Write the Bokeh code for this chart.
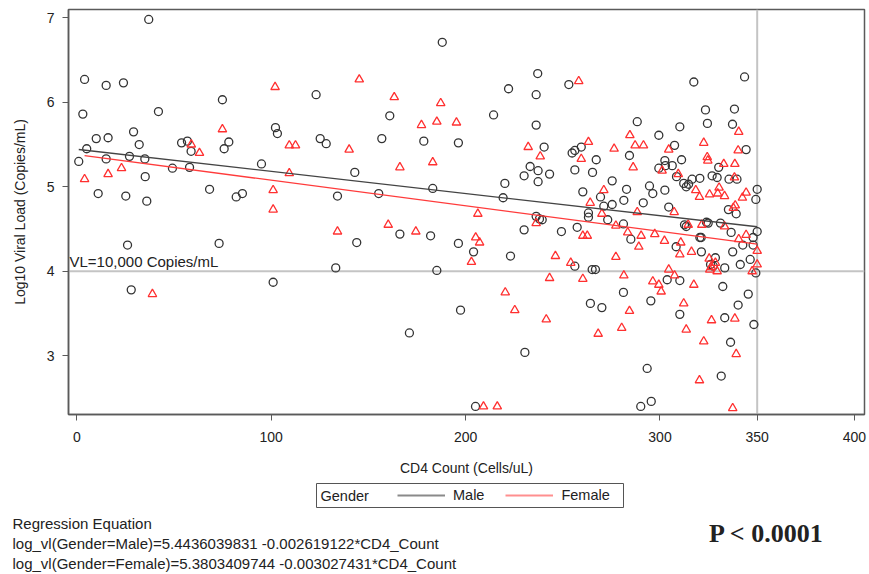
from bokeh.plotting import figure
from bokeh.layouts import column
from bokeh.models import (Span, Label, Legend, LegendItem, BoxAnnotation,
                          FixedTicker, Range1d)
from bokeh.embed import file_html
from bokeh.resources import INLINE

# ---------------- data ----------------
male_cd4 = [37.0, 4.0, 15.1, 24.0, 3.1, 42.0, 74.9, 123.1, 161.0, 188.0,
            10.0, 16.1, 29.2, 32.1, 5.1, 1.0, 15.1, 27.1, 35.0, 11.0,
            25.2, 35.2, 36.0, 26.1, 28.0, 53.9, 56.9, 58.8, 49.2, 58.0,
            68.3, 82.0, 85.2, 73.2, 75.8, 78.2, 95.0, 102.2, 103.2, 101.0,
            125.2, 128.3, 134.1, 144.0, 133.2, 143.0, 155.3, 156.9, 166.2, 171.1,
            178.5, 182.0, 183.1, 185.2,
            196.3, 219.3, 220.2, 196.3, 204.1, 223.1, 214.4, 222.1, 237.1, 236.3,
            236.3, 240.4, 233.2, 237.3, 230.1, 243.2, 237.3, 236.3, 239.4, 238.0,
            230.1, 249.3, 253.1, 254.8, 256.2, 259.5, 256.2, 257.4, 256.2,
            197.4, 230.5, 205.1,
            265.1, 266.8, 264.2, 270.1,
            267.2, 265.3, 260.3, 269.4, 263.2, 263.2, 271.1,
            317.4, 343.5, 323.4, 338.3, 288.3, 310.2, 324.4, 337.3, 299.4, 344.3,
            307.5, 284.3, 302.5, 306.3, 299.4, 302.8, 311.1, 308.5, 320.5, 316.5,
            326.8, 329.4, 330.2, 335.5, 339.6, 312.2, 313.5, 314.7, 275.4, 282.8,
            294.6, 296.3, 302.5, 281.4, 291.4, 275.4, 273.1, 281.2, 304.5,
            350.0, 349.3, 335.2, 339.2, 312.6, 313.5, 323.9, 324.8, 331.1, 336.6,
            350.0, 347.9, 285.0, 320.5, 321.2,
            308.3, 321.3, 337.4, 342.6, 347.9, 328.5, 326.0, 327.4, 333.3, 341.3,
            346.4, 349.3, 303.7, 310.2, 332.3, 281.2, 295.3, 345.4, 340.2, 310.2,
            333.3, 348.3, 336.3, 293.4, 331.5, 290.1, 295.5]
male_vl = [6.98, 6.27, 6.20, 6.23, 5.86, 5.89, 6.03, 6.09, 5.84, 6.71,
           5.57, 5.58, 5.65, 5.50, 5.45, 5.30, 5.33, 5.36, 5.33, 4.92,
           4.89, 5.12, 4.83, 4.31, 3.78, 5.52, 5.54, 5.42, 5.22, 5.23,
           4.97, 4.88, 4.92, 4.33, 5.45, 5.53, 5.27, 5.70, 5.63, 3.87,
           5.57, 5.51, 4.89, 4.34, 4.04, 5.17, 4.92, 5.57, 4.44, 3.27,
           5.54, 4.42, 4.98, 4.01,
           5.52, 4.87, 5.04, 4.33, 4.23, 4.18, 5.85, 6.16, 6.34, 6.09,
           5.73, 5.47, 5.24, 5.19, 5.13, 5.15, 5.06, 4.65, 4.61, 4.62,
           4.49, 4.47, 6.21, 5.40, 5.43, 5.47, 5.20, 4.52, 4.06,
           3.54, 3.04, 2.40,
           4.02, 4.02, 3.62, 3.57,
           5.32, 5.17, 4.94, 4.88, 4.69, 4.64, 4.77,
           6.24, 6.30, 5.91, 5.92, 5.77, 5.71, 5.75, 5.74, 5.61, 5.44,
           5.49, 5.37, 5.31, 5.25, 5.22, 5.25, 5.32, 5.12, 5.10, 5.09,
           5.13, 5.11, 5.23, 5.09, 5.09, 5.04, 5.00, 5.03, 5.07, 4.97,
           5.01, 4.92, 4.96, 4.84, 4.81, 4.79, 4.61, 4.56, 4.76,
           4.97, 4.85, 4.73, 4.68, 4.55, 4.53, 4.58, 4.57, 4.57, 4.46,
           4.47, 4.40, 4.38, 4.40, 4.40,
           4.29, 4.23, 4.23, 4.31, 4.31, 4.16, 4.08, 4.06, 4.04, 4.08,
           4.14, 3.98, 3.90, 3.89, 3.82, 3.75, 3.65, 3.73, 3.60, 3.49,
           3.45, 3.37, 3.16, 2.85, 2.76, 2.40, 2.46]

female_cd4 = [4.0, 16.1, 23.0, 38.9, 58.9, 63.1, 74.9, 102.0, 109.3, 112.5,
              109.3, 101.0, 101.0, 140.1, 145.3, 163.3, 166.2, 134.1, 160.2, 174.4,
              177.3, 185.2, 187.2, 183.1,
              195.3, 206.3, 205.2, 207.2, 203.0, 220.4, 232.2, 238.4, 236.3, 246.2,
              243.2, 254.1, 258.2, 209.2, 216.3, 225.3, 241.5, 260.3, 268.2,
              260.3, 262.6, 263.2, 259.5, 264.1, 271.1, 270.1,
              284.5, 276.4, 287.2, 291.5, 286.2, 304.5, 322.5, 324.3, 324.6, 340.5,
              340.2, 332.8, 338.5, 301.1, 309.4, 318.4, 320.3, 325.5, 330.4, 329.7,
              333.2, 338.3, 344.3, 342.4, 338.7, 337.7, 288.3, 307.3, 314.5, 321.5,
              333.2, 277.3, 283.4, 290.3, 297.3, 302.3, 310.7, 344.3,
              289.1, 310.2, 316.2, 277.3, 325.3, 328.5, 325.6, 329.4, 326.4, 340.5,
              350.0, 350.0, 347.4, 304.5, 307.5, 281.4, 296.3, 299.4, 300.6, 317.4,
              312.2, 284.3, 280.3, 313.5, 326.5, 338.5, 322.5, 339.2, 320.3, 337.4]
female_vl = [5.09, 5.15, 5.22, 3.73, 5.50, 5.40, 5.68, 6.18, 5.49, 5.49,
             5.16, 4.96, 4.73, 5.44, 6.27, 6.06, 5.23, 4.47, 4.55, 4.47,
             5.73, 5.77, 5.99, 5.29,
             5.76, 4.68, 4.40, 4.34, 4.11, 3.75, 5.47, 5.36, 4.57, 4.18,
             3.92, 4.10, 6.25, 2.40, 2.40, 3.54, 3.43, 3.91, 3.26,
             4.42, 4.42, 5.53, 5.33, 4.81, 4.96, 4.68,
             5.61, 5.45, 5.49, 5.49, 5.23, 5.44, 5.52, 5.35, 5.31, 5.65,
             5.43, 5.27, 5.27, 5.19, 5.15, 4.96, 4.88, 4.91, 4.99, 4.92,
             4.89, 5.11, 4.93, 4.87, 4.78, 4.75, 4.70, 4.70, 4.55, 4.55,
             4.53, 4.54, 4.46, 4.42, 4.44, 4.36, 4.34, 4.43,
             4.29, 4.20, 4.23, 4.17, 4.15, 4.10, 4.02, 4.00, 4.05, 4.38,
             4.24, 4.08, 4.00, 4.02, 3.95, 3.95, 3.88, 3.84, 3.76, 3.84,
             3.62, 3.53, 3.33, 3.31, 3.42, 3.44, 3.17, 3.02, 2.71, 2.38]

male_intercept, male_slope = 5.4436039831, -0.002619122
female_intercept, female_slope = 5.3803409744, -0.003027431
x_ticks = [0, 100, 200, 300, 350, 400]
y_ticks = [3, 4, 5, 6, 7]
vl_threshold = 4
cd4_cutoff = 350
p_value_text = "P < 0.0001"

FONT = "Liberation Sans"
TXT = "#222222"
W = 868

# ---------------- main figure ----------------
p = figure(width=W, height=478, output_backend="svg", toolbar_location=None,
           title=None, x_range=Range1d(-4.27, 405.2), y_range=Range1d(2.305, 7.098),
           min_border_left=68, min_border_right=4, min_border_top=9,
           min_border_bottom=64)
p.xgrid.visible = False
p.ygrid.visible = False
p.outline_line_color = "#5a5a5a"
p.outline_line_width = 1.5
p.background_fill_color = "white"
p.border_fill_color = "white"

p.xaxis.ticker = FixedTicker(ticks=x_ticks)
p.yaxis.ticker = FixedTicker(ticks=y_ticks)
for ax in (p.xaxis[0], p.yaxis[0]):
    ax.axis_line_color = "#5a5a5a"
    ax.axis_line_width = 1.5
    ax.major_tick_line_color = "#5a5a5a"
    ax.major_tick_out = 6
    ax.major_tick_in = 0
    ax.minor_tick_line_color = None
    ax.major_label_text_font = FONT
    ax.major_label_text_font_size = "14px"
    ax.major_label_text_color = TXT
    ax.axis_label_text_font = FONT
    ax.axis_label_text_font_size = "14px"
    ax.axis_label_text_font_style = "normal"
    ax.axis_label_text_color = TXT
p.xaxis.major_label_standoff = 11
p.yaxis.major_label_standoff = 8
p.xaxis.axis_label = "CD4 Count (Cells/uL)"
p.yaxis.axis_label = "Log10 Viral Load (Copies/mL)"
p.xaxis.axis_label_standoff = 15
p.yaxis.axis_label_standoff = 16

# reference lines
p.add_layout(Span(location=vl_threshold, dimension="width", line_color="#c4c4c4",
                  line_width=2, level="underlay"))
p.add_layout(Span(location=cd4_cutoff, dimension="height", line_color="#c4c4c4",
                  line_width=2, level="underlay"))
p.add_layout(Label(x=1, y=vl_threshold, x_units="screen", y_units="data",
                   text="VL=10,000 Copies/mL", text_baseline="bottom", y_offset=1,
                   text_font=FONT, text_font_size="15px", text_color=TXT))

# scatter
p.scatter(male_cd4, male_vl, marker="circle", size=8, fill_color=None,
          line_color="#333333", line_width=1.3)
p.scatter(female_cd4, female_vl, marker="triangle", size=8.5, fill_color=None,
          line_color="#ff3030", line_width=1.3)

# regression lines
mx = [min(male_cd4), max(male_cd4)]
fx = [min(female_cd4), max(female_cd4)]
p.line(mx, [male_intercept + male_slope * v for v in mx], line_color="#444444",
       line_width=1.3)
p.line(fx, [female_intercept + female_slope * v for v in fx], line_color="#ff3b3b",
       line_width=1.3)

# ---------------- footer figure (legend + equations) ----------------
H2 = 95
f = figure(width=W, height=H2, output_backend="svg", toolbar_location=None,
           title=None, x_range=Range1d(0, W), y_range=Range1d(H2, 0),
           x_axis_location=None, y_axis_location=None,
           min_border_left=0, min_border_right=0, min_border_top=0,
           min_border_bottom=0)
f.xgrid.visible = False
f.ygrid.visible = False
f.outline_line_color = None
f.background_fill_color = "white"
f.border_fill_color = "white"

for fig in (p, f):
    try:
        fig.frame_align = False
    except Exception:
        pass

nan = float("nan")
male_leg = f.line([nan, nan], [nan, nan], line_color="#8a8a8a", line_width=2)
female_leg = f.line([nan, nan], [nan, nan], line_color="#ff8f8f", line_width=2)
legend = Legend(items=[LegendItem(label="Male", renderers=[male_leg]),
                       LegendItem(label="Female", renderers=[female_leg])],
                location=(397, 69), orientation="horizontal",
                glyph_width=48, glyph_height=18, label_height=18,
                label_standoff=8, spacing=21, padding=0, margin=0,
                border_line_alpha=0, background_fill_alpha=0,
                label_text_font=FONT, label_text_font_size="14.5px",
                label_text_color=TXT)
f.add_layout(legend)
f.add_layout(BoxAnnotation(left=316, right=623, top=5, bottom=29,
                           fill_color=None, fill_alpha=0, line_color="#555555",
                           line_width=1, line_alpha=1))
f.add_layout(Label(x=320, y=17, text="Gender", text_baseline="middle",
                   text_font=FONT, text_font_size="14.5px", text_color=TXT))

eq_lines = ["Regression Equation",
            f"log_vl(Gender=Male)={male_intercept:.10f} {male_slope:.9f}*CD4_Count",
            f"log_vl(Gender=Female)={female_intercept:.10f} {female_slope:.9f}*CD4_Count"]
for i, t in enumerate(eq_lines):
    f.add_layout(Label(x=12, y=45 + 20 * i, text=t, text_baseline="middle",
                       text_font=FONT, text_font_size="15px", text_color=TXT))

f.add_layout(Label(x=766, y=55, text=p_value_text, text_align="center",
                   text_baseline="middle", text_font="Liberation Serif",
                   text_font_style="bold", text_font_size="26px", text_color=TXT))

layout = column(p, f, spacing=0)
open("out.html", "w").write(file_html(layout, INLINE))
